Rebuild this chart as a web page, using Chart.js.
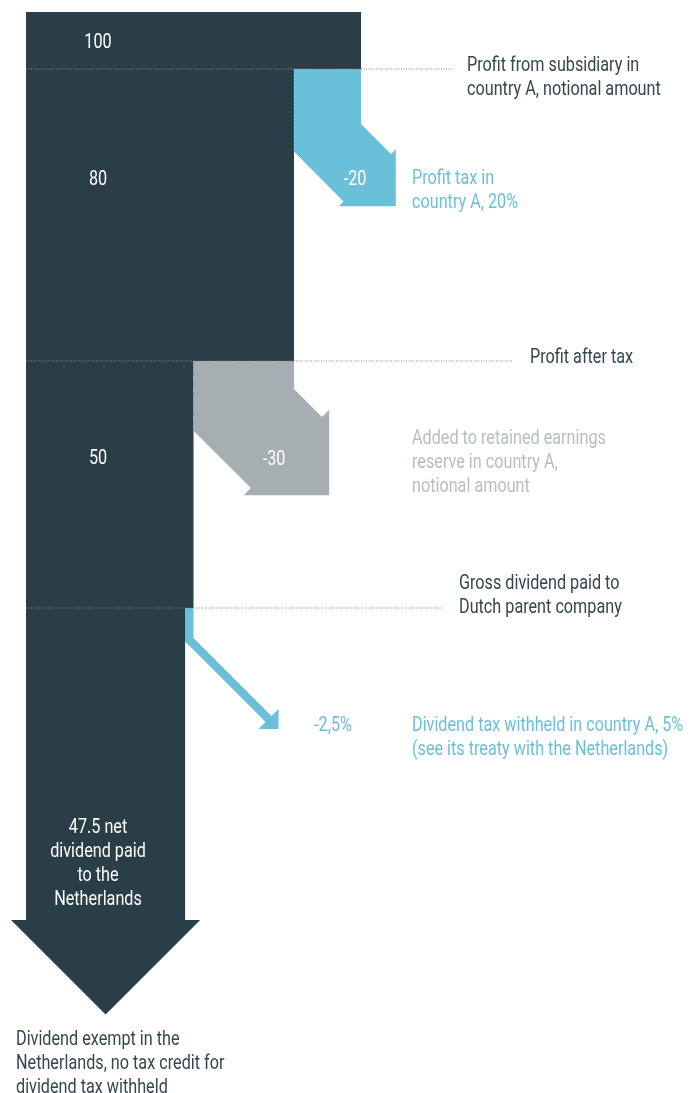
<!DOCTYPE html>
<html>
<head>
<meta charset="utf-8">
<script src="https://cdn.jsdelivr.net/npm/chart.js@4/dist/chart.umd.min.js"></script>
<style>
    html, body { margin: 0; padding: 0; background: #fff; }
    #wrap { width: 699px; height: 1093px; position: relative; }
</style>
</head>
<body>
<div id="wrap"><canvas id="flowChart"></canvas></div>
<script>
// Amount left at each stage (profit of subsidiary = 100)
const stageValues = [100, 80, 50, 47.5];
const stageTexts = [['100'], ['80'], ['50'], ['47.5 net', 'dividend paid', 'to the', 'Netherlands']];

// Amount leaving the flow at each split
const outflowValues = [20, 30, 2.5];
const outflowTexts = ['-20', '-30', '-2,5%'];
const outflowLabels = [
    ['Profit tax in', 'country A, 20%'],
    ['Added to retained earnings', 'reserve in country A,', 'notional amount'],
    ['Dividend tax withheld in country A, 5%', '(see its treaty with the Netherlands)']
];
const splitLabels = [
    ['Profit from subsidiary in', 'country A, notional amount'],
    ['Profit after tax'],
    ['Gross dividend paid to', 'Dutch parent company']
];
const footLabel = ['Dividend exempt in the', 'Netherlands, no tax credit for', 'dividend tax withheld'];

// Layout (px)
const W = 699, H = 1093;
const LEFT = 26;
const UNIT = 3.35;            // px per unit of amount
const TOP = 12;
const SPLIT_Y = [69, 361, 608];
const ARROW_Y = 920;
const ARROW_OVERHANG = 15;
const OUT_DROP = [55, 28, 30];
const OUT_RUN = [30, 28, 78];
const HEAD_MIN = 20;
const LEADER_END = [452, 512, 443];

const DARK = '#293e46';
const BLUE = '#6bc0d9';
const GREY = '#a6aeb1';
const TEXT_DARK = '#34464e';
const TEXT_GREY = '#b7bec1';
const FONT = 'Roboto';
const CONDENSE = 0.81;

const xPx = v => LEFT + v * UNIT;
const toData = ([px, py]) => ({ x: (px - LEFT) / UNIT, y: py });

function mainShape() {
    const p = [[LEFT, TOP], [xPx(stageValues[0]), TOP]];
    SPLIT_Y.forEach((sy, i) => {
        p.push([xPx(stageValues[i]), sy], [xPx(stageValues[i + 1]), sy]);
    });
    const last = xPx(stageValues[stageValues.length - 1]);
    const half = (last - LEFT) / 2 + ARROW_OVERHANG;
    const mid = (last + LEFT) / 2;
    p.push([last, ARROW_Y], [last + ARROW_OVERHANG, ARROW_Y], [mid, ARROW_Y + half],
        [LEFT - ARROW_OVERHANG, ARROW_Y], [LEFT, ARROW_Y], [LEFT, TOP]);
    return p.map(toData);
}

// side flow: goes down, bends 45 degrees and ends in a right-angled head
function outShape(i) {
    const sy = SPLIT_Y[i];
    const xl = xPx(stageValues[i + 1]);
    const xr = xl + outflowValues[i] * UNIT;
    const w = xr - xl;
    const yR = sy + OUT_DROP[i];
    const cR = xr - yR;
    const cL = cR - w * Math.SQRT2;
    const cM = (cR + cL) / 2;
    const s = xr + 2 * OUT_RUN[i] + yR;
    const h = Math.max(0.85 * w, HEAD_MIN);
    const pts = [
        [xl, sy], [xr, sy], [xr, yR],
        [(s + cR) / 2, (s - cR) / 2],
        [(s + cM + h) / 2, (s - cM - h) / 2],
        [(s + cM + h) / 2, (s - cM + h) / 2],
        [(s + cM - h) / 2, (s - cM + h) / 2],
        [(s + cL) / 2, (s - cL) / 2],
        [xl, xl - cL], [xl, sy]
    ];
    return { pts: pts.map(toData), edge: [[xl, sy], [xl, xl - cL]].map(toData) };
}

function shapeDataset(data, color) {
    return {
        data: data,
        showLine: true,
        fill: 'shape',
        backgroundColor: color,
        borderColor: 'rgba(0,0,0,0)',
        borderWidth: 0,
        pointRadius: 0,
        tension: 0,
        order: 2
    };
}

function dottedDataset(data, color) {
    return {
        data: data,
        showLine: true,
        fill: false,
        borderColor: color,
        borderWidth: 1,
        borderDash: [1, 1.5],
        pointRadius: 0,
        order: 1
    };
}

const outColors = [BLUE, GREY, BLUE];
const datasets = [shapeDataset(mainShape(), DARK)];
outflowValues.forEach((v, i) => {
    const o = outShape(i);
    datasets.push(shapeDataset(o.pts, outColors[i]));
    if (i < 2) datasets.push(dottedDataset(o.edge, 'rgba(255,255,255,0.5)'));
});
SPLIT_Y.forEach((sy, i) => {
    datasets.push(dottedDataset([[LEFT, sy], [LEADER_END[i], sy]].map(toData), '#7d8c93'));
});

// text positions: [x, baseline]
const TEXT_POS = {
    stage: [[98, 48], [98, 185], [98, 464], [98, 833]],
    outflow: [[355, 185], [274, 465], [333, 731]],
    outLabel: [[412, 184], [412, 444], [412, 731]],
    split: [[467, 71], [530, 363], [459, 589]],
    foot: [16, 1045]
};
const LINE_H = 24;

function drawLines(ctx, lines, x, y, color, align) {
    ctx.save();
    ctx.font = `400 20px ${FONT}`;
    ctx.fillStyle = color;
    ctx.textAlign = align || 'left';
    ctx.textBaseline = 'alphabetic';
    lines.forEach((t, i) => {
        ctx.save();
        ctx.translate(x, y + i * LINE_H);
        ctx.scale(CONDENSE, 1);
        ctx.fillText(t, 0, 0);
        ctx.restore();
    });
    ctx.restore();
}

const textPlugin = {
    id: 'flowText',
    afterDatasetsDraw(chart) {
        const ctx = chart.ctx;
        stageTexts.forEach((lines, i) => {
            const [x, y] = TEXT_POS.stage[i];
            drawLines(ctx, lines, x, y, '#ffffff', 'center');
        });
        outflowTexts.forEach((t, i) => {
            const [x, y] = TEXT_POS.outflow[i];
            drawLines(ctx, [t], x, y, i === 2 ? BLUE : '#ffffff', 'center');
        });
        outflowLabels.forEach((lines, i) => {
            const [x, y] = TEXT_POS.outLabel[i];
            drawLines(ctx, lines, x, y, i === 1 ? TEXT_GREY : BLUE);
        });
        splitLabels.forEach((lines, i) => {
            const [x, y] = TEXT_POS.split[i];
            drawLines(ctx, lines, x, y, TEXT_DARK);
        });
        drawLines(ctx, footLabel, TEXT_POS.foot[0], TEXT_POS.foot[1], TEXT_DARK);
    }
};

new Chart(document.getElementById('flowChart'), {
    type: 'scatter',
    data: { datasets: datasets },
    options: {
        responsive: true,
        maintainAspectRatio: false,
        animation: false,
        events: [],
        layout: { padding: 0 },
        scales: {
            x: { type: 'linear', display: false, min: -LEFT / UNIT, max: (W - LEFT) / UNIT },
            y: { type: 'linear', display: false, min: 0, max: H, reverse: true }
        },
        plugins: {
            legend: { display: false },
            tooltip: { enabled: false }
        }
    },
    plugins: [textPlugin]
});
</script>
</body>
</html>
